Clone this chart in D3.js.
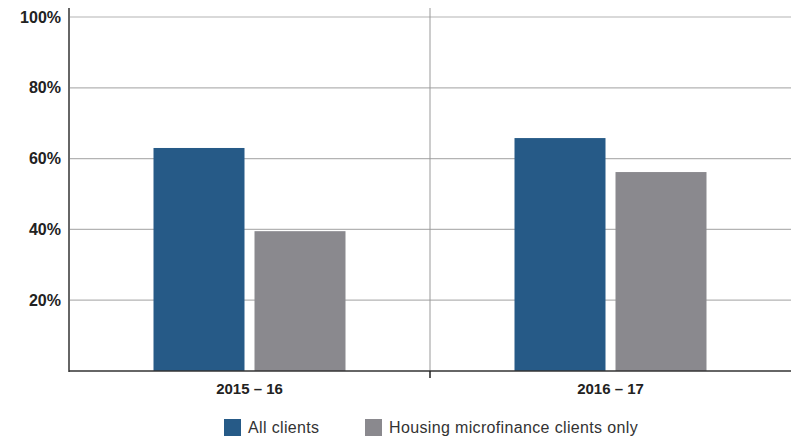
<!DOCTYPE html>
<html><head><meta charset="utf-8">
<script src="https://cdn.jsdelivr.net/npm/d3@7"></script>
<style>body{margin:0;background:#fff;} text{font-family:"Liberation Sans",Arial,sans-serif;}</style>
</head><body><svg id="c" width="791" height="439"></svg>
<script>
const categories = ["2015 – 16", "2016 – 17"];
const seriesNames = ["All clients", "Housing microfinance clients only"];
const allClients = [63.0, 65.8];
const housingOnly = [39.5, 56.2];
const yTicks = [20, 40, 60, 80, 100];
const colors = ["#265a87", "#8a898e"];

const svg = d3.select("#c");
const x0 = 69, x1 = 791, yTop = 17, yBot = 371;
const y = d3.scaleLinear().domain([0, 100]).range([yBot, yTop]);
const x = d3.scaleBand().domain(categories).range([x0, x1]).paddingInner(0).paddingOuter(0);
const xs = d3.scaleBand().domain(seriesNames).range([0, 192]).paddingInner(10/101);

// gridlines
svg.append("g").selectAll("line").data(yTicks).join("line")
  .attr("x1", x0).attr("x2", x1).attr("y1", d => y(d)).attr("y2", d => y(d))
  .attr("stroke", "#b3b3b3").attr("stroke-width", 1.2);
// middle divider
svg.append("line").attr("x1", x(categories[1])).attr("x2", x(categories[1]))
  .attr("y1", 8).attr("y2", yBot).attr("stroke", "#999").attr("stroke-width", 1);

// bars
const data = categories.map((c, i) => ({c, vals: [allClients[i], housingOnly[i]]}));
const g = svg.append("g").selectAll("g").data(data).join("g")
  .attr("transform", d => `translate(${x(d.c) + x.bandwidth()/2 - 96},0)`);
g.selectAll("rect").data(d => d.vals.map((v, j) => ({v, s: seriesNames[j], j})))
  .join("rect")
  .attr("x", d => xs(d.s)).attr("width", xs.bandwidth())
  .attr("y", d => y(d.v)).attr("height", d => yBot - y(d.v))
  .attr("fill", d => colors[d.j]);

// y axis
const ya = d3.axisLeft(y).tickValues(yTicks).tickFormat(d => d + "%").tickSize(0).tickPadding(8);
const yg = svg.append("g").attr("transform", `translate(${x0},0)`).call(ya);
yg.select(".domain").remove();
yg.selectAll("text").attr("font-size", 16).attr("font-weight", "bold").attr("fill", "#222");
svg.append("line").attr("x1", x0).attr("x2", x0).attr("y1", 8).attr("y2", yBot + 1)
  .attr("stroke", "#666").attr("stroke-width", 2);

// x axis
const xa = d3.axisBottom(x).tickSize(0).tickPadding(12);
const xg = svg.append("g").attr("transform", `translate(0,${yBot})`).call(xa);
xg.select(".domain").remove();
xg.selectAll("text").attr("font-size", 15).attr("font-weight", "bold").attr("fill", "#222");
svg.append("line").attr("x1", x0).attr("x2", x1).attr("y1", yBot).attr("y2", yBot)
  .attr("stroke", "#333").attr("stroke-width", 1.5);
svg.append("line").attr("x1", x(categories[1])).attr("x2", x(categories[1]))
  .attr("y1", yBot).attr("y2", yBot + 7).attr("stroke", "#222").attr("stroke-width", 1.5);

// legend
const legX = [224, 365];
const lg = svg.append("g").selectAll("g").data(seriesNames).join("g")
  .attr("transform", (d, i) => `translate(${legX[i]},419)`);
lg.append("rect").attr("width", 17).attr("height", 17).attr("fill", (d, i) => colors[i]);
lg.append("text").attr("x", 24).attr("y", 14).attr("font-size", 16).attr("letter-spacing", 0.35)
  .attr("fill", "#333").text(d => d);
</script></body></html>
